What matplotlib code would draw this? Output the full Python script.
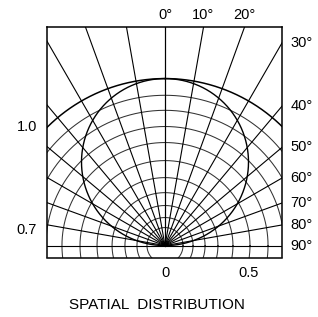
import matplotlib
matplotlib.use("Agg")
import matplotlib.pyplot as plt
import numpy as np

# angles of the radial grid (deg from the vertical axis)
angles = [0, 10, 20, 30, 40, 50, 60, 70, 80, 90]
angle_labels = ["0°", "10°", "20°", "30°", "40°", "50°", "60°", "70°", "80°", "90°"]
# ring radii (relative intensity units)
rings = [0.108, 0.168, 0.24, 0.317, 0.407, 0.509, 0.617, 0.713, 0.81, 0.9, 1.0]
left_labels = ["1.0", "0.7"]
left_rings = [1.0, 0.713]
bottom_ticks = [0, 0.5]

plt.rcParams['font.family'] = ['Liberation Sans', 'DejaVu Sans']

fig = plt.figure(figsize=(3.18, 3.17), dpi=100)
ax = fig.add_axes([47/318, 1-257.5/317, 235/318, 230.2/317])

x0, x1 = -0.7066, 0.7006
y0, y1 = -0.0713, 1.307
ax.set_xlim(x0, x1)
ax.set_ylim(y0, y1)
ax.set_xticks([])
ax.set_yticks([])
for sp in ax.spines.values():
    sp.set_linewidth(1.1)
    sp.set_color('black')

t = np.linspace(0, 2*np.pi, 720)
for r in rings:
    lw = 1.1 if r == 1.0 else 0.75
    col = 'black' if r == 1.0 else '#333333'
    ax.plot(r*np.cos(t), r*np.sin(t), color=col, lw=lw)

# radial lines
for a in angles:
    th = np.radians(a)
    for sgn in (1, -1):
        ax.plot([0, sgn*3*np.sin(th)], [0, 3*np.cos(th)], color='black', lw=0.8)

# lambertian pattern
ax.plot(0.5*np.sin(t), 0.5 + 0.5*np.cos(t), color='black', lw=1.0)

# angle labels
for a, lab in zip(angles, angle_labels):
    th = np.radians(a)
    if a == 0 or np.tan(th) * y1 < x1:
        xx = y1*np.tan(th)
        ax.text(xx, y1 + 0.03, lab, ha='center', va='bottom', fontsize=10.5)
    else:
        yy = x1 / np.tan(th) if a != 90 else 0
        ax.text(x1 + 0.05, yy, lab, ha='left', va='center', fontsize=10.5)

for lab, r in zip(left_labels, left_rings):
    yy = np.sqrt(max(r**2 - x0**2, 0))
    ax.text(x0 - 0.06, yy, lab, ha='right', va='center', fontsize=10.5)

for v in bottom_ticks:
    ax.text(v, y0 - 0.05, f"{v:g}", ha='center', va='top', fontsize=10.5)

fig.text(157/318, 1-305/317, "SPATIAL  DISTRIBUTION", ha='center', va='center', fontsize=11)

fig.savefig("out.png", dpi=100)
